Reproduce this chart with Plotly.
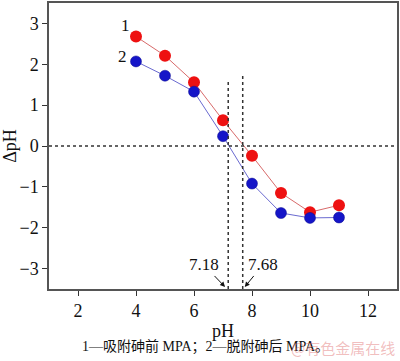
import plotly.graph_objects as go

ph = [4, 5, 6, 7, 8, 9, 10, 11]
dph_before = [2.68, 2.21, 1.56, 0.63, -0.24, -1.15, -1.62, -1.45]
dph_after = [2.07, 1.72, 1.33, 0.24, -0.92, -1.64, -1.76, -1.75]
iep = [7.18, 7.68]
iep_top = [1.57, 1.76]
xticks = [2, 4, 6, 8, 10, 12]
yticks = [-3, -2, -1, 0, 1, 2, 3]
yticklabels = ["−3", "−2", "−1", "0", "1", "2", "3"]

FONT = "Liberation Serif"

fig = go.Figure()
fig.add_trace(go.Scatter(x=ph, y=dph_before, mode="lines+markers",
                         line=dict(color="#d86a6a", width=1),
                         marker=dict(color="#ee1111", size=12), showlegend=False))
fig.add_trace(go.Scatter(x=ph, y=dph_after, mode="lines+markers",
                         line=dict(color="#6a6ad0", width=1),
                         marker=dict(color="#1515c8", size=11,
                                     line=dict(color="#0a0a90", width=0.5)),
                         showlegend=False))

# dotted reference lines
fig.add_shape(type="line", x0=1, x1=13, y0=0, y1=0, xref="x", yref="y",
              line=dict(color="#333", width=1.5, dash="dot"))
for xv, yt in zip(iep, iep_top):
    fig.add_shape(type="line", x0=xv, x1=xv, y0=-3.5, y1=yt, xref="x", yref="y",
                  line=dict(color="#333", width=1.5, dash="dot"))

# IEP labels with arrows
fig.add_annotation(x=7.07, y=-3.45, ax=-21, ay=-22, text="7.18", showarrow=True,
                   arrowhead=2, arrowsize=1, arrowwidth=1, arrowcolor="#111",
                   font=dict(family=FONT, size=17, color="#111"), xanchor="center")
fig.add_annotation(x=7.75, y=-3.45, ax=18, ay=-22, text="7.68", showarrow=True,
                   arrowhead=2, arrowsize=1, arrowwidth=1, arrowcolor="#111",
                   font=dict(family=FONT, size=17, color="#111"), xanchor="center")

# series labels
fig.add_annotation(x=3.65, y=2.95, text="1", showarrow=False,
                   font=dict(family=FONT, size=17, color="#111"))
fig.add_annotation(x=3.55, y=2.2, text="2", showarrow=False,
                   font=dict(family=FONT, size=17, color="#111"))

# caption
fig.add_annotation(xref="paper", yref="paper", x=0.449, y=-0.2, yanchor="middle",
                   text="1—吸附砷前 MPA；2—脱附砷后 MPA。",
                   showarrow=False,
                   font=dict(family="Liberation Serif, Noto Sans CJK SC", size=14,
                             color="#111"))
# watermark
fig.add_annotation(xref="paper", yref="paper", x=1.0, y=-0.205, xanchor="right",
                   yanchor="middle", text="@有色金属在线", showarrow=False,
                   font=dict(family="Noto Sans CJK SC", size=15,
                             color="rgba(225,110,110,0.45)"))

fig.update_xaxes(range=[1, 13], tickvals=xticks, ticks="outside", ticklen=5,
                 tickcolor="#333", showline=True, linecolor="#555", linewidth=1.5,
                 mirror=True, showgrid=False, zeroline=False,
                 title=dict(text="pH", font=dict(family=FONT, size=18, color="#111"),
                            standoff=4),
                 tickfont=dict(family=FONT, size=18, color="#111"))
fig.update_yaxes(range=[-3.5, 3.5], tickvals=yticks, ticktext=yticklabels,
                 ticks="outside", ticklen=5,
                 tickcolor="#333", showline=True, linecolor="#555", linewidth=1.5,
                 mirror=True, showgrid=False, zeroline=False,
                 title=dict(text="ΔpH", font=dict(family=FONT, size=18, color="#111"),
                            standoff=6),
                 tickfont=dict(family=FONT, size=18, color="#111"))

fig.update_layout(width=400, height=361, paper_bgcolor="white", plot_bgcolor="white",
                  margin=dict(l=48, r=2, t=1, b=72))
fig.write_html("out.html", config={"displayModeBar": False},
               post_script="document.body.style.margin='0';")
